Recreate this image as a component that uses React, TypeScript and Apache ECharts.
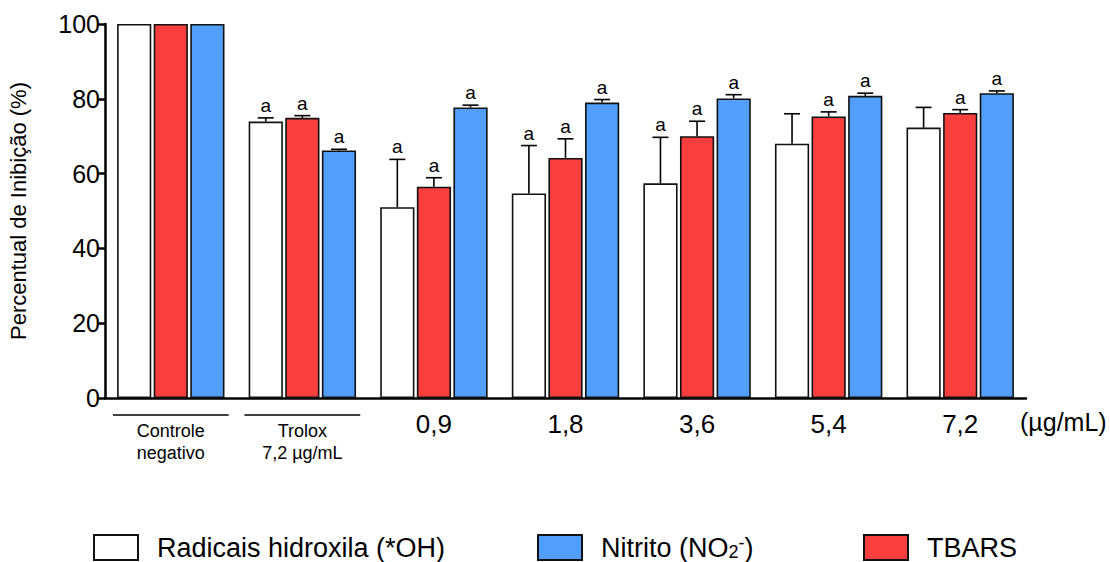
import React, { useEffect, useRef } from "react";
import * as echarts from "echarts";

const categories = ["Controle negativo", "Trolox 7,2 µg/mL", "0,9", "1,8", "3,6", "5,4", "7,2"];
const seriesNames = ["Radicais hidroxila (*OH)", "TBARS", "Nitrito (NO2-)"];
const hydroxyl = [100, 73.9, 51.0, 54.7, 57.4, 68.0, 72.3];
const hydroxylErr = [0, 1.0, 12.8, 12.8, 12.3, 8.0, 5.4];
const hydroxylSig = [0, 1, 1, 1, 1, 0, 0];
const tbars = [100, 74.9, 56.5, 64.2, 70.0, 75.3, 76.2];
const tbarsErr = [0, 0.6, 2.4, 5.1, 4.0, 1.2, 0.9];
const tbarsSig = [0, 1, 1, 1, 1, 1, 1];
const nitrite = [100, 66.2, 77.7, 79.0, 80.1, 80.8, 81.5];
const nitriteErr = [0, 0.3, 0.6, 0.8, 1.0, 0.7, 0.6];
const nitriteSig = [0, 1, 1, 1, 1, 1, 1];
const yMin = 0;
const yMax = 100;
const yInterval = 20;

const FONT = "Liberation Sans, Arial, sans-serif";
const COLORS = ["#FFFFFF", "#F93E3E", "#519EFB"];
const BAR_W = 0.26;
const BAR_GAP = 0.07;

function errorSeries(idx: number, values: number[], errs: number[], sig: number[]) {
  return {
    type: "custom",
    silent: true,
    z: 10,
    data: values.map((v, i) => [i, v, errs[i], sig[i]]),
    renderItem: (params: any, api: any) => {
      const ci = api.value(0);
      const v = api.value(1);
      const e = api.value(2);
      const s = api.value(3);
      const band = api.size([1, 0])[0];
      const off = (idx - 1) * band * BAR_W * (1 + BAR_GAP);
      const base = api.coord([ci, v]);
      const top = api.coord([ci, v + e]);
      const x = base[0] + off;
      const children: any[] = [];
      if (e > 0) {
        children.push({
          type: "line",
          shape: { x1: x, y1: base[1], x2: x, y2: top[1] },
          style: { stroke: "#000", lineWidth: 1.6 },
        });
        children.push({
          type: "line",
          shape: { x1: x - 8, y1: top[1], x2: x + 8, y2: top[1] },
          style: { stroke: "#000", lineWidth: 1.6 },
        });
      }
      if (s) {
        children.push({
          type: "text",
          x: x,
          y: top[1] - 3,
          style: {
            text: "a",
            textAlign: "center",
            textVerticalAlign: "bottom",
            fontSize: 19,
            fontFamily: FONT,
            fill: "#000",
          },
        });
      }
      return { type: "group", children };
    },
  };
}

export default function App() {
  const ref = useRef<HTMLDivElement>(null);
  useEffect(() => {
    document.body.style.margin = "0";
    const chart = echarts.init(ref.current!, null, { renderer: "svg" });
    const barSeries = [hydroxyl, tbars, nitrite].map((vals, i) => ({
      name: seriesNames[i],
      type: "bar",
      data: vals,
      barWidth: BAR_W * 100 + "%",
      barGap: BAR_GAP * 100 + "%",
      itemStyle: { color: COLORS[i], borderColor: "#111", borderWidth: 1.6 },
    }));
    const legendCommon = {
      top: 534,
      padding: 0,
      itemWidth: 44,
      itemHeight: 25,
      icon: "rect",
      selectedMode: false,
      textStyle: { fontSize: 27, fontFamily: FONT, color: "#000", padding: [0, 0, 0, 14] },
    };
    chart.setOption({
      animation: false,
      backgroundColor: "#fff",
      grid: { left: 105, right: 84, top: 24, bottom: 164, containLabel: false, outerBoundsMode: "none" },
      legend: [
        { ...legendCommon, left: 93, data: [seriesNames[0]] },
        {
          ...legendCommon,
          left: 537,
          data: [seriesNames[2]],
          formatter: () => "Nitrito (NO{sub|2}{sup|-})",
          textStyle: {
            ...legendCommon.textStyle,
            rich: {
              sub: { fontSize: 18, fontFamily: FONT, color: "#000", verticalAlign: "bottom", padding: [8, 0, 0, 0] },
              sup: { fontSize: 18, fontFamily: FONT, color: "#000", verticalAlign: "top", padding: [0, 0, 8, 0] },
            },
          },
        },
        { ...legendCommon, left: 863, data: [seriesNames[1]] },
      ],
      xAxis: {
        type: "category",
        data: categories,
        axisLine: { lineStyle: { color: "#000", width: 2.5 } },
        axisTick: { alignWithLabel: true, length: 6, lineStyle: { color: "#000", width: 2.5 } },
        axisLabel: {
          margin: 13,
          interval: 0,
          color: "#000",
          fontFamily: FONT,
          formatter: (val: string, i: number) => {
            if (i === 0) return "{sp| }\n{s|Controle}\n{s|negativo}";
            if (i === 1) return "{sp| }\n{s|Trolox}\n{s|7,2 µg/mL}";
            return "{b|" + val + "}";
          },
          rich: {
            sp: { fontSize: 1, lineHeight: 9 },
            s: { fontSize: 18, lineHeight: 22, fontFamily: FONT, color: "#000" },
            b: { fontSize: 26, lineHeight: 26, fontFamily: FONT, color: "#000" },
          },
        },
      },
      yAxis: {
        type: "value",
        min: yMin,
        max: yMax,
        interval: yInterval,
        name: "Percentual de Inibição (%)",
        nameLocation: "middle",
        nameGap: 76,
        nameTextStyle: { fontSize: 22, fontFamily: FONT, color: "#000" },
        axisLine: { show: true, lineStyle: { color: "#000", width: 2.5 } },
        axisTick: { show: true, length: 8, lineStyle: { color: "#000", width: 2.5 } },
        splitLine: { show: false },
        axisLabel: { fontSize: 25, fontFamily: FONT, color: "#000", margin: 5 },
      },
      series: [
        ...barSeries,
        errorSeries(0, hydroxyl, hydroxylErr, hydroxylSig),
        errorSeries(1, tbars, tbarsErr, tbarsSig),
        errorSeries(2, nitrite, nitriteErr, nitriteSig),
      ],
    });
    const x0 = chart.convertToPixel({ xAxisIndex: 0 }, 0) as number;
    const x1 = chart.convertToPixel({ xAxisIndex: 0 }, 1) as number;
    const y0 = chart.convertToPixel({ yAxisIndex: 0 }, 0) as number;
    const band = x1 - x0;
    const half = band * 0.44;
    const lastX = chart.convertToPixel({ xAxisIndex: 0 }, categories.length - 1) as number;
    chart.setOption({
      graphic: [
        { type: "line", shape: { x1: x0 - half, y1: y0 + 17, x2: x0 + half, y2: y0 + 17 }, style: { stroke: "#000", lineWidth: 1.5 } },
        { type: "line", shape: { x1: x1 - half, y1: y0 + 17, x2: x1 + half, y2: y0 + 17 }, style: { stroke: "#000", lineWidth: 1.5 } },
        {
          type: "text",
          x: lastX + band / 2 - 6,
          y: y0 + 11,
          style: { text: "(µg/mL)", fontSize: 25, fontFamily: FONT, fill: "#000", textAlign: "left", textVerticalAlign: "top" },
        },
      ],
    });
    return () => chart.dispose();
  }, []);
  return <div ref={ref} style={{ width: 1110, height: 562 }} />;
}
